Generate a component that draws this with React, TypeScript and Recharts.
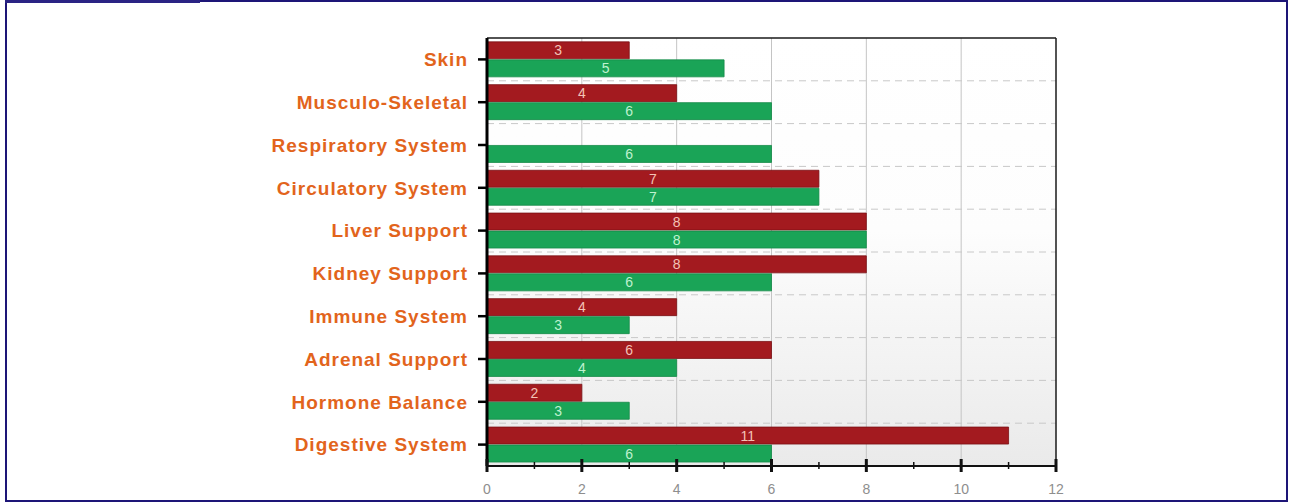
import { BarChart, Bar, XAxis, YAxis, CartesianGrid, LabelList } from "recharts";

const categories = [
  "Skin",
  "Musculo-Skeletal",
  "Respiratory System",
  "Circulatory System",
  "Liver Support",
  "Kidney Support",
  "Immune System",
  "Adrenal Support",
  "Hormone Balance",
  "Digestive System",
];
const redValues = [3, 4, null, 7, 8, 8, 4, 6, 2, 11];
const greenValues = [5, 6, 6, 7, 8, 6, 3, 4, 3, 6];
const xTicks = [0, 1, 2, 3, 4, 5, 6, 7, 8, 9, 10, 11, 12];
const xMax = 12;
const gridValues = [2, 4, 6, 8, 10];

const data = categories.map((name, i) => ({ name, red: redValues[i], green: greenValues[i] }));

const FONT = '"Liberation Sans", Arial, sans-serif';

const XTick = (props: any) => {
  const { x, y, payload } = props;
  const major = payload.value % 2 === 0;
  return (
    <g>
      <line
        x1={x}
        x2={x}
        y1={major ? y - 7 : y - 4}
        y2={major ? y + 6 : y + 3}
        stroke="#111"
        strokeWidth={major ? 3 : 1.5}
      />
      {major && (
        <text x={x} y={y + 28} textAnchor="middle" fill="#8e8e8e" fontSize={14} fontFamily={FONT}>
          {payload.value}
        </text>
      )}
    </g>
  );
};

const fmt = (v: any) => (v ? v : "");

export default function App() {
  return (
    <div style={{ position: "fixed", left: 0, top: 0, width: 1292, height: 502, background: "#fff" }}>
      <div
        style={{
          position: "absolute",
          left: 5,
          top: 0,
          width: 1283,
          height: 502,
          border: "2px solid #1d1577",
          boxSizing: "border-box",
        }}
      />
      <div style={{ position: "absolute", left: 5, top: 0, width: 195, height: 3, background: "#2a2384" }} />
      <div style={{ position: "absolute", left: 0, top: 0 }}>
        <BarChart
          width={1292}
          height={502}
          data={data}
          layout="vertical"
          margin={{ top: 38, right: 236, bottom: 0, left: 0 }}
          barCategoryGap="9%"
          barGap={1}
        >
          <defs>
            <linearGradient id="plotBg" x1="0" y1="0" x2="0" y2="1">
              <stop offset="0%" stopColor="#ffffff" />
              <stop offset="45%" stopColor="#fdfdfd" />
              <stop offset="100%" stopColor="#eaeaea" />
            </linearGradient>
          </defs>
          <CartesianGrid
            fill="url(#plotBg)"
            horizontal={false}
            stroke="#c4c4c4"
            verticalCoordinatesGenerator={({ offset }: any) =>
              gridValues.map((v) => offset.left + (v / xMax) * offset.width)
            }
          />
          <CartesianGrid
            vertical={false}
            stroke="#c8c8c8"
            strokeDasharray="7 5"
            horizontalCoordinatesGenerator={({ offset }: any) =>
              categories.slice(1).map((_, i) => offset.top + ((i + 1) * offset.height) / categories.length)
            }
          />
          <CartesianGrid
            stroke="#1a1a1a"
            strokeWidth={1.5}
            horizontalCoordinatesGenerator={({ offset }: any) => [offset.top]}
            verticalCoordinatesGenerator={({ offset }: any) => [offset.left + offset.width]}
          />
          <XAxis
            type="number"
            domain={[0, xMax]}
            ticks={xTicks}
            interval={0}
            height={36}
            tickSize={0}
            tickMargin={0}
            tickLine={false}
            axisLine={{ stroke: "#111", strokeWidth: 2 }}
            tick={<XTick />}
          />
          <YAxis
            type="category"
            dataKey="name"
            width={487}
            tickSize={9}
            tickMargin={10}
            interval={0}
            tickLine={{ stroke: "#000", strokeWidth: 2.5 }}
            axisLine={{ stroke: "#000", strokeWidth: 3 }}
            tick={{ fill: "#e2641c", fontSize: 19, fontWeight: "bold", fontFamily: FONT, letterSpacing: 1 }}
          />
          <Bar dataKey="red" fill="#a31a1f" stroke="#7a1014" strokeWidth={0.8} isAnimationActive={false}>
            <LabelList dataKey="red" position="center" fill="#f3c2b6" fontSize={14} fontFamily={FONT} formatter={fmt} />
          </Bar>
          <Bar dataKey="green" fill="#1aa457" stroke="#148a47" strokeWidth={0.8} isAnimationActive={false}>
            <LabelList dataKey="green" position="center" fill="#bff2cf" fontSize={14} fontFamily={FONT} formatter={fmt} />
          </Bar>
        </BarChart>
      </div>
    </div>
  );
}
